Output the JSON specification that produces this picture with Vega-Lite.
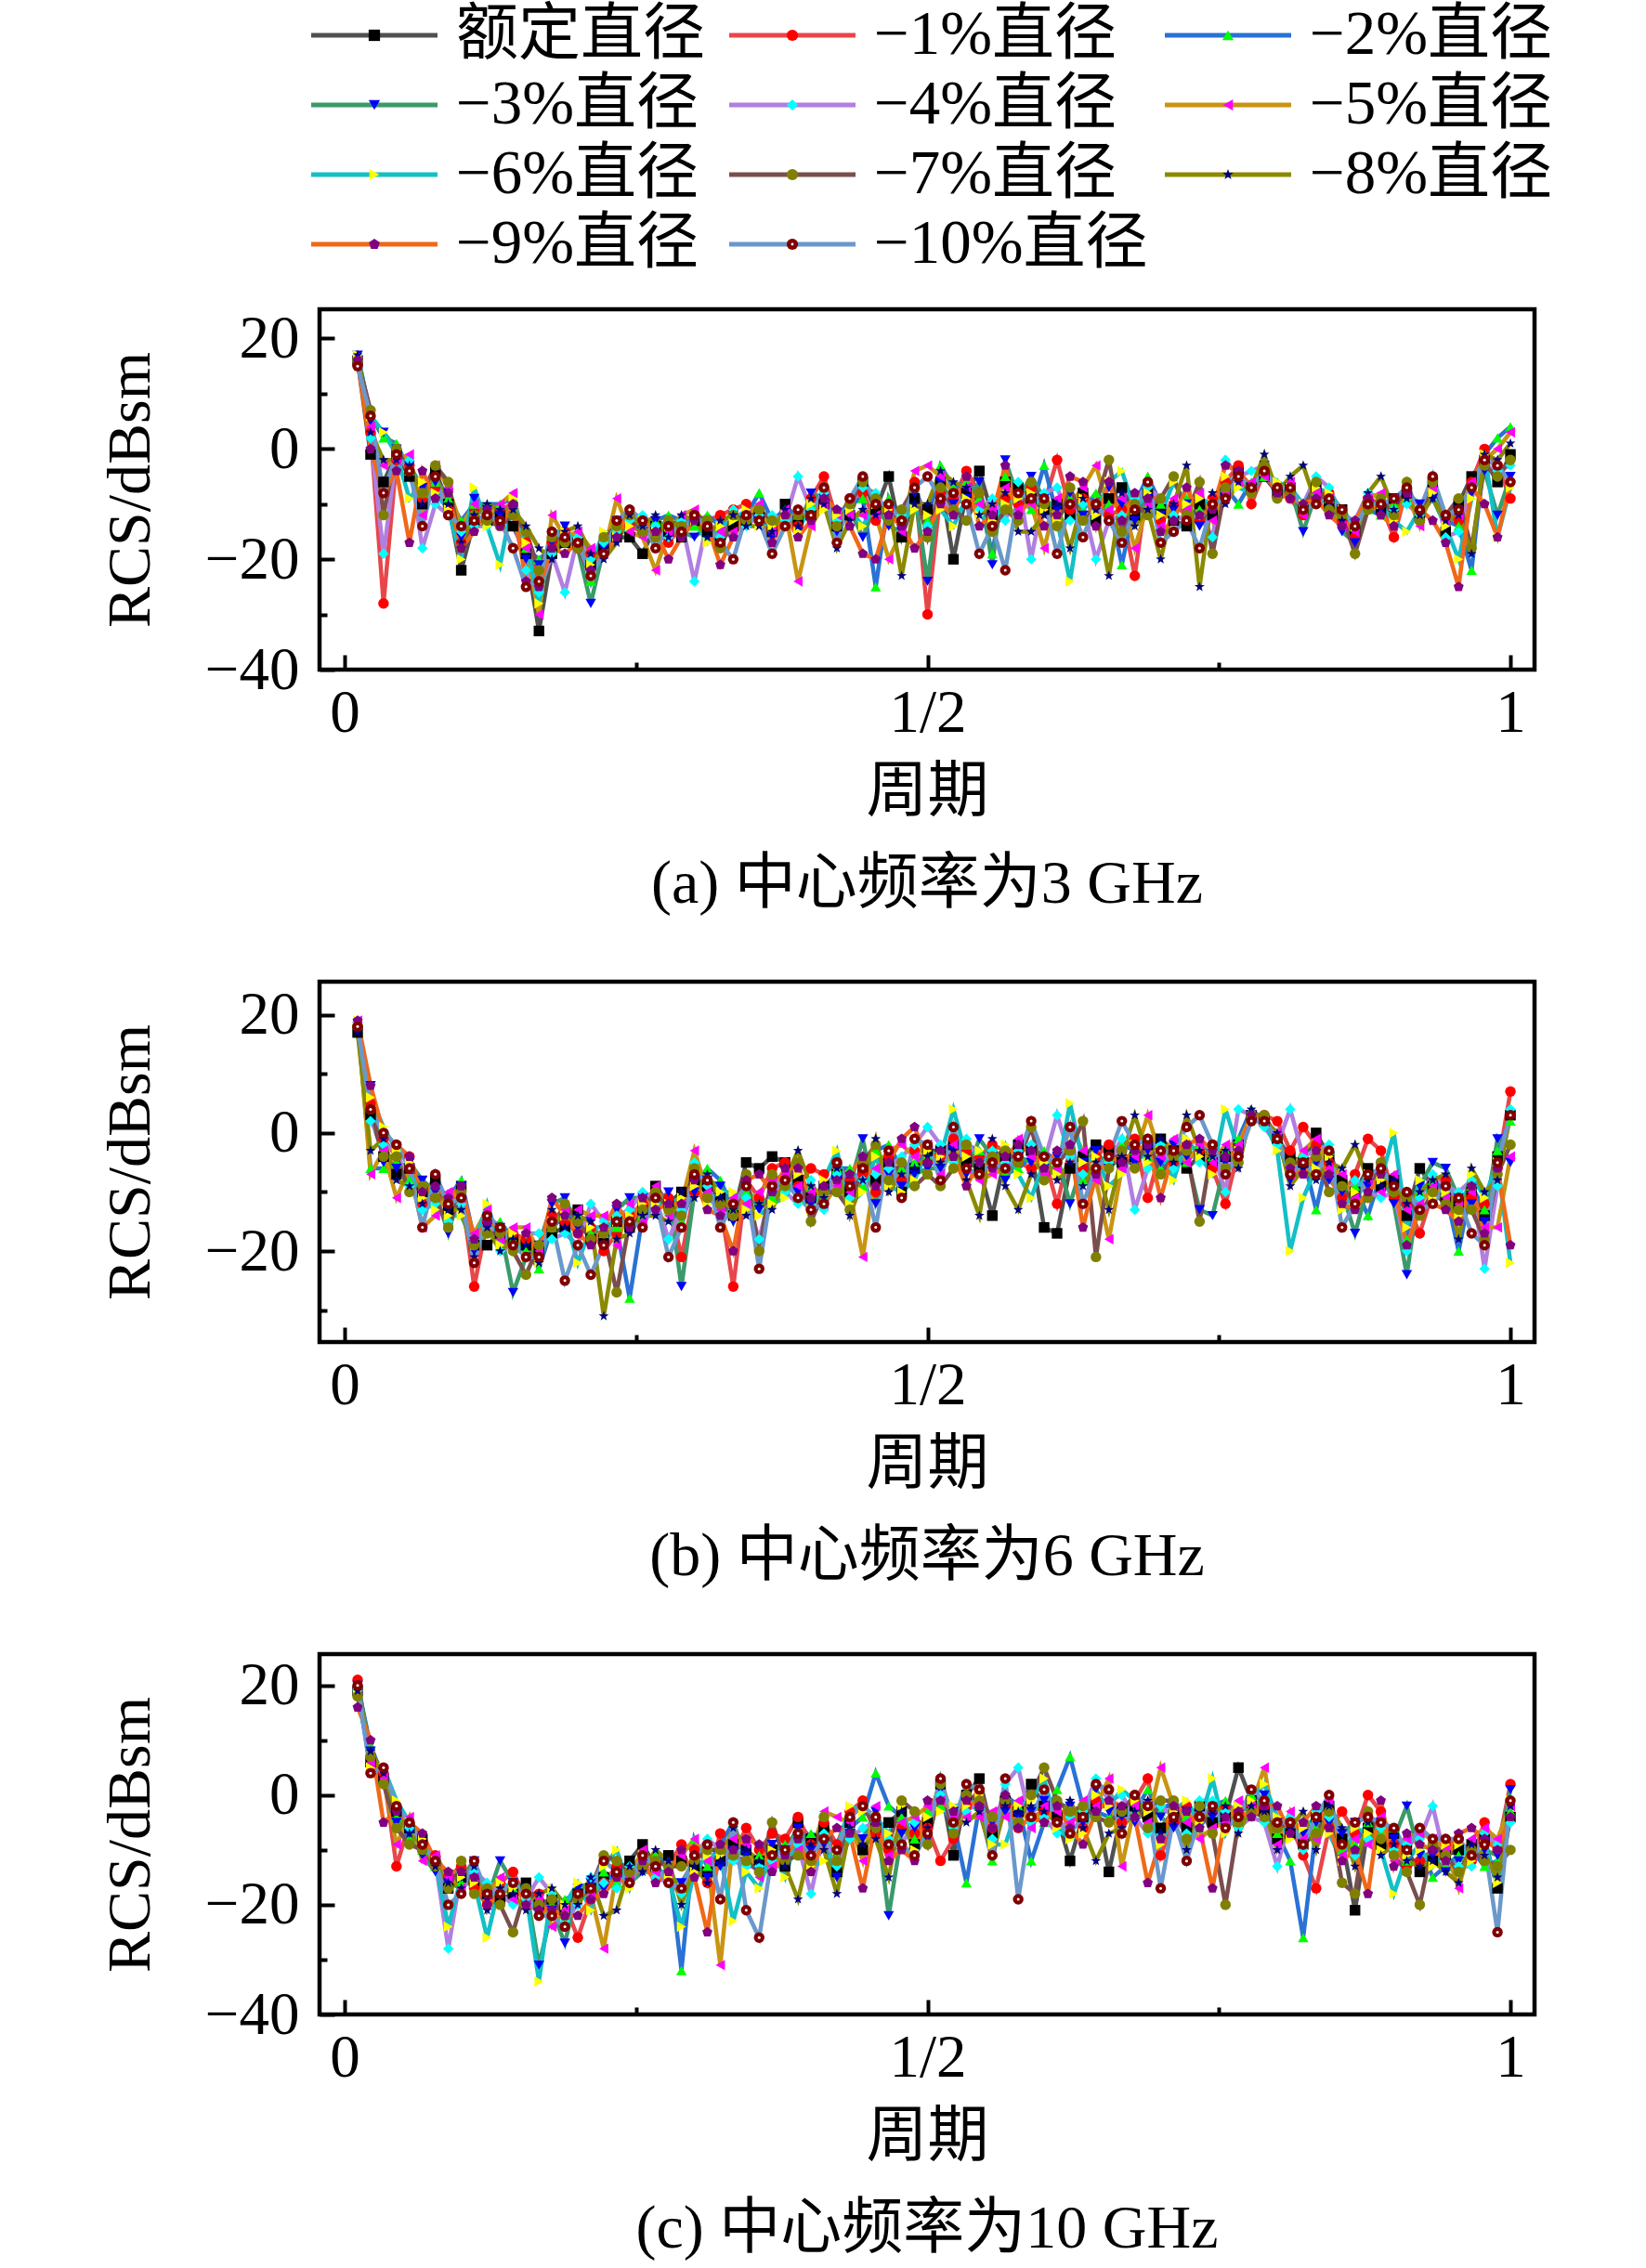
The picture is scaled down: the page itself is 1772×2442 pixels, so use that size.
{
  "$schema": "https://vega.github.io/schema/vega-lite/v6.json",
  "autosize": {"type": "pad"},
  "padding": {"left": 105, "top": 4, "right": 10, "bottom": 10},
  "background": "white",
  "config": {
    "font": "'Liberation Serif', 'Noto Sans CJK SC'",
    "view": {"stroke": "black", "strokeWidth": 4.5},
    "axis": {
      "domain": false, "grid": false, "tickColor": "black", "tickWidth": 4,
      "labelFont": "'Liberation Serif', 'Noto Sans CJK SC'", "labelFontSize": 65, "labelColor": "black",
      "titleFont": "'Liberation Serif', 'Noto Sans CJK SC'", "titleFontSize": 66, "titleFontWeight": "normal", "titleColor": "black",
      "labelFlush": false, "labelOverlap": false
    },
    "axisX": {"titlePadding": 20, "labelPadding": 31},
    "axisY": {"titlePadding": 46, "labelPadding": 38},
    "title": {"font": "'Liberation Serif', 'Noto Sans CJK SC'", "fontSize": 66, "fontWeight": "normal", "color": "black", "offset": 35, "frame": "group"}
  },
  "datasets": {
    "L": [
      {"s": "a", "t": "额定直径"}, {"s": "b", "t": "−1%直径"}, {"s": "c", "t": "−2%直径"},
      {"s": "d", "t": "−3%直径"}, {"s": "e", "t": "−4%直径"}, {"s": "f", "t": "−5%直径"},
      {"s": "g", "t": "−6%直径"}, {"s": "h", "t": "−7%直径"}, {"s": "i", "t": "−8%直径"},
      {"s": "j", "t": "−9%直径"}, {"s": "k", "t": "−10%直径"}
    ],
    "A": [
      {"x":1,"a":16,"b":16,"c":17,"d":17,"e":16,"f":16,"g":17,"h":16,"i":17,"j":16,"k":15},
      {"x":2,"a":-1,"b":3,"c":6,"d":5,"e":2,"f":4,"g":6,"h":7,"i":3,"j":0,"k":6},
      {"x":3,"a":-6,"b":-28,"c":2,"d":3,"e":-19,"f":-3,"g":3,"h":-12,"i":-2,"j":-8,"k":-8},
      {"x":4,"a":-1,"b":-2,"c":1,"d":0,"e":-1,"f":-2,"g":-1,"h":0,"i":-2,"j":-4,"k":-1},
      {"x":5,"a":-5,"b":-3,"c":-4,"d":-3,"e":-2,"f":-1,"g":-9,"h":-4,"i":-3,"j":-17,"k":-4},
      {"x":6,"a":-10,"b":-9,"c":-8,"d":-7,"e":-18,"f":-12,"g":-6,"h":-8,"i":-10,"j":-4,"k":-14},
      {"x":7,"a":-4,"b":-7,"c":-6,"d":-6,"e":-10,"f":-3,"g":-8,"h":-3,"i":-5,"j":-9,"k":-5},
      {"x":8,"a":-10,"b":-11,"c":-9,"d":-8,"e":-12,"f":-7,"g":-11,"h":-6,"i":-10,"j":-8,"k":-12},
      {"x":9,"a":-22,"b":-17,"c":-13,"d":-16,"e":-15,"f":-14,"g":-20,"h":-18,"i":-17,"j":-18,"k":-14},
      {"x":10,"a":-13,"b":-11,"c":-10,"d":-9,"e":-14,"f":-10,"g":-7,"h":-12,"i":-12,"j":-15,"k":-13},
      {"x":11,"a":-13,"b":-12,"c":-10,"d":-11,"e":-14,"f":-12,"g":-14,"h":-13,"i":-10,"j":-11,"k":-12},
      {"x":12,"a":-12,"b":-11,"c":-10,"d":-12,"e":-13,"f":-10,"g":-21,"h":-14,"i":-11,"j":-14,"k":-13},
      {"x":13,"a":-14,"b":-10,"c":-9,"d":-11,"e":-12,"f":-8,"g":-9,"h":-12,"i":-11,"j":-10,"k":-18},
      {"x":14,"a":-19,"b":-17,"c":-18,"d":-20,"e":-22,"f":-18,"g":-17,"h":-15,"i":-14,"j":-24,"k":-25},
      {"x":15,"a":-33,"b":-24,"c":-20,"d":-21,"e":-26,"f":-30,"g":-28,"h":-22,"i":-18,"j":-25,"k":-24},
      {"x":16,"a":-19,"b":-17,"c":-18,"d":-17,"e":-19,"f":-12,"g":-15,"h":-16,"i":-20,"j":-18,"k":-15},
      {"x":17,"a":-17,"b":-15,"c":-16,"d":-14,"e":-26,"f":-16,"g":-15,"h":-17,"i":-15,"j":-19,"k":-16},
      {"x":18,"a":-17,"b":-18,"c":-16,"d":-18,"e":-16,"f":-15,"g":-17,"h":-18,"i":-14,"j":-17,"k":-17},
      {"x":19,"a":-21,"b":-19,"c":-24,"d":-28,"e":-20,"f":-18,"g":-21,"h":-23,"i":-19,"j":-22,"k":-23},
      {"x":20,"a":-18,"b":-17,"c":-16,"d":-18,"e":-17,"f":-19,"g":-15,"h":-16,"i":-20,"j":-19,"k":-19},
      {"x":21,"a":-16,"b":-15,"c":-14,"d":-13,"e":-15,"f":-9,"g":-16,"h":-14,"i":-17,"j":-16,"k":-13},
      {"x":22,"a":-16,"b":-14,"c":-12,"d":-13,"e":-13,"f":-15,"g":-14,"h":-12,"i":-12,"j":-11,"k":-11},
      {"x":23,"a":-19,"b":-15,"c":-14,"d":-15,"e":-12,"f":-16,"g":-13,"h":-15,"i":-14,"j":-13,"k":-13},
      {"x":24,"a":-14,"b":-15,"c":-13,"d":-13,"e":-14,"f":-22,"g":-15,"h":-16,"i":-12,"j":-15,"k":-18},
      {"x":25,"a":-15,"b":-17,"c":-12,"d":-14,"e":-16,"f":-15,"g":-14,"h":-13,"i":-16,"j":-20,"k":-14},
      {"x":26,"a":-16,"b":-14,"c":-13,"d":-15,"e":-13,"f":-12,"g":-15,"h":-14,"i":-12,"j":-16,"k":-15},
      {"x":27,"a":-13,"b":-12,"c":-14,"d":-16,"e":-24,"f":-11,"g":-13,"h":-12,"i":-13,"j":-13,"k":-12},
      {"x":28,"a":-15,"b":-13,"c":-12,"d":-14,"e":-13,"f":-14,"g":-17,"h":-13,"i":-16,"j":-14,"k":-14},
      {"x":29,"a":-17,"b":-12,"c":-14,"d":-15,"e":-16,"f":-15,"g":-14,"h":-18,"i":-13,"j":-21,"k":-17},
      {"x":30,"a":-14,"b":-11,"c":-12,"d":-13,"e":-11,"f":-15,"g":-13,"h":-12,"i":-12,"j":-16,"k":-20},
      {"x":31,"a":-13,"b":-10,"c":-12,"d":-13,"e":-14,"f":-12,"g":-11,"h":-13,"i":-14,"j":-12,"k":-12},
      {"x":32,"a":-12,"b":-11,"c":-8,"d":-13,"e":-12,"f":-10,"g":-14,"h":-11,"i":-14,"j":-13,"k":-13},
      {"x":33,"a":-15,"b":-14,"c":-13,"d":-16,"e":-12,"f":-15,"g":-14,"h":-13,"i":-15,"j":-17,"k":-19},
      {"x":34,"a":-10,"b":-12,"c":-11,"d":-12,"e":-13,"f":-11,"g":-12,"h":-14,"i":-11,"j":-12,"k":-14},
      {"x":35,"a":-13,"b":-14,"c":-12,"d":-15,"e":-5,"f":-24,"g":-15,"h":-12,"i":-14,"j":-16,"k":-11},
      {"x":36,"a":-12,"b":-9,"c":-10,"d":-8,"e":-11,"f":-14,"g":-10,"h":-12,"i":-9,"j":-13,"k":-12},
      {"x":37,"a":-10,"b":-5,"c":-8,"d":-9,"e":-8,"f":-10,"g":-11,"h":-7,"i":-10,"j":-9,"k":-7},
      {"x":38,"a":-14,"b":-13,"c":-12,"d":-15,"e":-13,"f":-12,"g":-12,"h":-14,"i":-18,"j":-11,"k":-17},
      {"x":39,"a":-12,"b":-9,"c":-10,"d":-11,"e":-10,"f":-12,"g":-11,"h":-10,"i":-13,"j":-14,"k":-9},
      {"x":40,"a":-6,"b":-8,"c":-9,"d":-16,"e":-7,"f":-12,"g":-14,"h":-6,"i":-11,"j":-19,"k":-5},
      {"x":41,"a":-11,"b":-13,"c":-25,"d":-10,"e":-8,"f":-12,"g":-10,"h":-9,"i":-12,"j":-20,"k":-10},
      {"x":42,"a":-5,"b":-11,"c":-9,"d":-14,"e":-12,"f":-20,"g":-11,"h":-13,"i":-10,"j":-12,"k":-10},
      {"x":43,"a":-16,"b":-13,"c":-14,"d":-15,"e":-12,"f":-15,"g":-13,"h":-11,"i":-23,"j":-14,"k":-13},
      {"x":44,"a":-9,"b":-6,"c":-7,"d":-8,"e":-7,"f":-4,"g":-11,"h":-7,"i":-10,"j":-18,"k":-7},
      {"x":45,"a":-11,"b":-30,"c":-13,"d":-24,"e":-14,"f":-3,"g":-12,"h":-16,"i":-10,"j":-15,"k":-5},
      {"x":46,"a":-6,"b":-8,"c":-3,"d":-6,"e":-9,"f":-5,"g":-11,"h":-7,"i":-4,"j":-10,"k":-9},
      {"x":47,"a":-20,"b":-9,"c":-7,"d":-10,"e":-12,"f":-8,"g":-14,"h":-11,"i":-6,"j":-12,"k":-8},
      {"x":48,"a":-8,"b":-4,"c":-6,"d":-9,"e":-10,"f":-7,"g":-9,"h":-13,"i":-7,"j":-5,"k":-10},
      {"x":49,"a":-4,"b":-8,"c":-9,"d":-6,"e":-11,"f":-10,"g":-12,"h":-8,"i":-12,"j":-14,"k":-19},
      {"x":50,"a":-12,"b":-14,"c":-19,"d":-21,"e":-9,"f":-11,"g":-13,"h":-15,"i":-10,"j":-12,"k":-14},
      {"x":51,"a":-6,"b":-9,"c":-5,"d":-2,"e":-13,"f":-7,"g":-10,"h":-11,"i":-8,"j":-3,"k":-22},
      {"x":52,"a":-7,"b":-10,"c":-8,"d":-9,"e":-6,"f":-11,"g":-9,"h":-13,"i":-15,"j":-12,"k":-8},
      {"x":53,"a":-9,"b":-7,"c":-11,"d":-5,"e":-20,"f":-10,"g":-8,"h":-6,"i":-15,"j":-9,"k":-9},
      {"x":54,"a":-11,"b":-10,"c":-3,"d":-9,"e":-8,"f":-18,"g":-11,"h":-10,"i":-12,"j":-14,"k":-9},
      {"x":55,"a":-10,"b":-2,"c":-12,"d":-11,"e":-7,"f":-9,"g":-13,"h":-14,"i":-10,"j":-12,"k":-19},
      {"x":56,"a":-12,"b":-11,"c":-9,"d":-8,"e":-13,"f":-10,"g":-24,"h":-7,"i":-18,"j":-5,"k":-10},
      {"x":57,"a":-8,"b":-9,"c":-11,"d":-12,"e":-10,"f":-7,"g":-9,"h":-13,"i":-9,"j":-6,"k":-16},
      {"x":58,"a":-13,"b":-10,"c":-8,"d":-11,"e":-20,"f":-3,"g":-12,"h":-10,"i":-11,"j":-14,"k":-10},
      {"x":59,"a":-9,"b":-12,"c":-10,"d":-7,"e":-13,"f":-11,"g":-6,"h":-2,"i":-23,"j":-6,"k":-13},
      {"x":60,"a":-7,"b":-11,"c":-21,"d":-10,"e":-12,"f":-9,"g":-4,"h":-15,"i":-8,"j":-13,"k":-17},
      {"x":61,"a":-12,"b":-23,"c":-10,"d":-13,"e":-9,"f":-18,"g":-11,"h":-10,"i":-14,"j":-8,"k":-11},
      {"x":62,"a":-8,"b":-6,"c":-5,"d":-9,"e":-7,"f":-10,"g":-8,"h":-12,"i":-11,"j":-9,"k":-6},
      {"x":63,"a":-11,"b":-13,"c":-10,"d":-12,"e":-9,"f":-14,"g":-12,"h":-9,"i":-20,"j":-15,"k":-17},
      {"x":64,"a":-13,"b":-10,"c":-12,"d":-11,"e":-12,"f":-9,"g":-6,"h":-5,"i":-10,"j":-13,"k":-15},
      {"x":65,"a":-14,"b":-12,"c":-9,"d":-10,"e":-13,"f":-11,"g":-10,"h":-12,"i":-3,"j":-7,"k":-13},
      {"x":66,"a":-10,"b":-13,"c":-11,"d":-14,"e":-12,"f":-8,"g":-9,"h":-6,"i":-25,"j":-12,"k":-18},
      {"x":67,"a":-12,"b":-9,"c":-10,"d":-11,"e":-16,"f":-13,"g":-10,"h":-19,"i":-8,"j":-11,"k":-10},
      {"x":68,"a":-8,"b":-6,"c":-7,"d":-9,"e":-2,"f":-8,"g":-5,"h":-7,"i":-10,"j":-3,"k":-9},
      {"x":69,"a":-4,"b":-3,"c":-10,"d":-6,"e":-5,"f":-6,"g":-7,"h":-5,"i":-6,"j":-4,"k":-5},
      {"x":70,"a":-7,"b":-10,"c":-6,"d":-7,"e":-4,"f":-6,"g":-8,"h":-8,"i":-7,"j":-7,"k":-7},
      {"x":71,"a":-5,"b":-4,"c":-5,"d":-3,"e":-3,"f":-5,"g":-4,"h":-3,"i":-1,"j":-4,"k":-4},
      {"x":72,"a":-8,"b":-7,"c":-6,"d":-8,"e":-9,"f":-7,"g":-6,"h":-9,"i":-8,"j":-8,"k":-7},
      {"x":73,"a":-7,"b":-9,"c":-8,"d":-7,"e":-8,"f":-6,"g":-7,"h":-8,"i":-5,"j":-9,"k":-7},
      {"x":74,"a":-11,"b":-12,"c":-10,"d":-15,"e":-10,"f":-12,"g":-10,"h":-11,"i":-3,"j":-10,"k":-11},
      {"x":75,"a":-7,"b":-9,"c":-8,"d":-8,"e":-5,"f":-8,"g":-7,"h":-6,"i":-10,"j":-9,"k":-10},
      {"x":76,"a":-10,"b":-8,"c":-9,"d":-10,"e":-7,"f":-9,"g":-8,"h":-11,"i":-9,"j":-12,"k":-9},
      {"x":77,"a":-11,"b":-13,"c":-12,"d":-15,"e":-12,"f":-14,"g":-11,"h":-12,"i":-13,"j":-14,"k":-11},
      {"x":78,"a":-15,"b":-16,"c":-14,"d":-17,"e":-13,"f":-15,"g":-14,"h":-19,"i":-14,"j":-13,"k":-14},
      {"x":79,"a":-10,"b":-9,"c":-11,"d":-10,"e":-8,"f":-9,"g":-10,"h":-11,"i":-8,"j":-9,"k":-10},
      {"x":80,"a":-11,"b":-10,"c":-12,"d":-11,"e":-9,"f":-8,"g":-10,"h":-9,"i":-5,"j":-12,"k":-10},
      {"x":81,"a":-9,"b":-16,"c":-10,"d":-12,"e":-11,"f":-9,"g":-13,"h":-12,"i":-11,"j":-14,"k":-9},
      {"x":82,"a":-8,"b":-7,"c":-9,"d":-8,"e":-10,"f":-8,"g":-15,"h":-6,"i":-9,"j":-8,"k":-7},
      {"x":83,"a":-12,"b":-13,"c":-11,"d":-10,"e":-12,"f":-14,"g":-11,"h":-13,"i":-12,"j":-11,"k":-11},
      {"x":84,"a":-6,"b":-8,"c":-7,"d":-9,"e":-5,"f":-7,"g":-8,"h":-6,"i":-9,"j":-13,"k":-5},
      {"x":85,"a":-15,"b":-12,"c":-13,"d":-14,"e":-16,"f":-13,"g":-14,"h":-12,"i":-13,"j":-17,"k":-12},
      {"x":86,"a":-10,"b":-13,"c":-14,"d":-11,"e":-15,"f":-12,"g":-20,"h":-9,"i":-12,"j":-25,"k":-11},
      {"x":87,"a":-5,"b":-6,"c":-22,"d":-8,"e":-7,"f":-6,"g":-9,"h":-18,"i":-19,"j":-7,"k":-7},
      {"x":88,"a":-2,"b":0,"c":-1,"d":-4,"e":-3,"f":-2,"g":-1,"h":-3,"i":-1,"j":-10,"k":-2},
      {"x":89,"a":-6,"b":-3,"c":2,"d":-12,"e":-4,"f":0,"g":-16,"h":-5,"i":-2,"j":-16,"k":-3},
      {"x":90,"a":-1,"b":-9,"c":4,"d":-5,"e":-3,"f":3,"g":-7,"h":-2,"i":1,"j":-6,"k":-6}
    ],
    "B": [
      {"x":1,"a":17,"b":18,"c":19,"d":18,"e":18,"f":19,"g":19,"h":18,"i":17,"j":19,"k":18},
      {"x":2,"a":3,"b":5,"c":-6,"d":8,"e":2,"f":-7,"g":6,"h":4,"i":-3,"j":8,"k":4},
      {"x":3,"a":-4,"b":-1,"c":-6,"d":-5,"e":-2,"f":-3,"g":1,"h":-4,"i":-1,"j":0,"k":0},
      {"x":4,"a":-7,"b":-4,"c":-5,"d":-6,"e":-3,"f":-11,"g":-3,"h":-4,"i":-8,"j":-2,"k":-2},
      {"x":5,"a":-6,"b":-4,"c":-8,"d":-5,"e":-9,"f":-6,"g":-5,"h":-10,"i":-9,"j":-4,"k":-6},
      {"x":6,"a":-10,"b":-12,"c":-9,"d":-8,"e":-13,"f":-16,"g":-11,"h":-9,"i":-12,"j":-10,"k":-16},
      {"x":7,"a":-8,"b":-11,"c":-9,"d":-10,"e":-12,"f":-14,"g":-13,"h":-11,"i":-7,"j":-9,"k":-7},
      {"x":8,"a":-13,"b":-12,"c":-11,"d":-17,"e":-15,"f":-10,"g":-14,"h":-16,"i":-13,"j":-11,"k":-12},
      {"x":9,"a":-9,"b":-10,"c":-8,"d":-9,"e":-12,"f":-11,"g":-14,"h":-10,"i":-13,"j":-9,"k":-11},
      {"x":10,"a":-19,"b":-26,"c":-18,"d":-20,"e":-18,"f":-17,"g":-19,"h":-19,"i":-21,"j":-18,"k":-22},
      {"x":11,"a":-19,"b":-15,"c":-17,"d":-16,"e":-14,"f":-13,"g":-12,"h":-17,"i":-16,"j":-15,"k":-14},
      {"x":12,"a":-17,"b":-16,"c":-15,"d":-16,"e":-20,"f":-18,"g":-19,"h":-17,"i":-20,"j":-16,"k":-16},
      {"x":13,"a":-18,"b":-17,"c":-18,"d":-27,"e":-19,"f":-16,"g":-17,"h":-20,"i":-18,"j":-19,"k":-19},
      {"x":14,"a":-19,"b":-18,"c":-20,"d":-21,"e":-17,"f":-16,"g":-21,"h":-24,"i":-19,"j":-17,"k":-21},
      {"x":15,"a":-20,"b":-21,"c":-23,"d":-19,"e":-17,"f":-20,"g":-22,"h":-19,"i":-22,"j":-21,"k":-21},
      {"x":16,"a":-17,"b":-14,"c":-16,"d":-12,"e":-18,"f":-15,"g":-15,"h":-16,"i":-13,"j":-11,"k":-15},
      {"x":17,"a":-16,"b":-15,"c":-14,"d":-11,"e":-17,"f":-13,"g":-14,"h":-12,"i":-16,"j":-14,"k":-25},
      {"x":18,"a":-13,"b":-17,"c":-14,"d":-16,"e":-19,"f":-13,"g":-22,"h":-15,"i":-14,"j":-17,"k":-19},
      {"x":19,"a":-18,"b":-16,"c":-17,"d":-15,"e":-12,"f":-14,"g":-16,"h":-18,"i":-15,"j":-19,"k":-24},
      {"x":20,"a":-18,"b":-20,"c":-17,"d":-19,"e":-15,"f":-14,"g":-16,"h":-17,"i":-31,"j":-16,"k":-19},
      {"x":21,"a":-15,"b":-17,"c":-16,"d":-13,"e":-14,"f":-19,"g":-15,"h":-27,"i":-18,"j":-12,"k":-15},
      {"x":22,"a":-16,"b":-14,"c":-28,"d":-11,"e":-13,"f":-12,"g":-14,"h":-15,"i":-17,"j":-16,"k":-15},
      {"x":23,"a":-13,"b":-12,"c":-14,"d":-11,"e":-10,"f":-15,"g":-12,"h":-13,"i":-14,"j":-11,"k":-16},
      {"x":24,"a":-9,"b":-10,"c":-11,"d":-12,"e":-11,"f":-9,"g":-12,"h":-10,"i":-14,"j":-13,"k":-11},
      {"x":25,"a":-12,"b":-11,"c":-13,"d":-10,"e":-18,"f":-14,"g":-12,"h":-13,"i":-15,"j":-12,"k":-21},
      {"x":26,"a":-10,"b":-21,"c":-15,"d":-26,"e":-13,"f":-12,"g":-11,"h":-14,"i":-10,"j":-12,"k":-16},
      {"x":27,"a":-8,"b":-10,"c":-9,"d":-10,"e":-5,"f":-3,"g":-9,"h":-6,"i":-11,"j":-8,"k":-7},
      {"x":28,"a":-9,"b":-11,"c":-6,"d":-8,"e":-9,"f":-10,"g":-12,"h":-11,"i":-7,"j":-13,"k":-8},
      {"x":29,"a":-11,"b":-12,"c":-8,"d":-9,"e":-14,"f":-13,"g":-10,"h":-12,"i":-11,"j":-14,"k":-16},
      {"x":30,"a":-14,"b":-26,"c":-13,"d":-15,"e":-12,"f":-11,"g":-10,"h":-14,"i":-13,"j":-20,"k":-12},
      {"x":31,"a":-5,"b":-8,"c":-10,"d":-9,"e":-11,"f":-12,"g":-13,"h":-7,"i":-14,"j":-8,"k":-9},
      {"x":32,"a":-6,"b":-11,"c":-12,"d":-13,"e":-18,"f":-10,"g":-14,"h":-20,"i":-12,"j":-7,"k":-23},
      {"x":33,"a":-4,"b":-6,"c":-11,"d":-10,"e":-9,"f":-8,"g":-12,"h":-7,"i":-13,"j":-10,"k":-9},
      {"x":34,"a":-5,"b":-5,"c":-8,"d":-9,"e":-10,"f":-7,"g":-11,"h":-9,"i":-8,"j":-6,"k":-8},
      {"x":35,"a":-8,"b":-9,"c":-11,"d":-10,"e":-12,"f":-9,"g":-7,"h":-5,"i":-3,"j":-6,"k":-11},
      {"x":36,"a":-11,"b":-6,"c":-9,"d":-12,"e":-8,"f":-10,"g":-13,"h":-15,"i":-9,"j":-11,"k":-13},
      {"x":37,"a":-9,"b":-7,"c":-11,"d":-10,"e":-13,"f":-12,"g":-8,"h":-10,"i":-11,"j":-9,"k":-12},
      {"x":38,"a":-7,"b":-5,"c":-6,"d":-8,"e":-7,"f":-9,"g":-3,"h":-10,"i":-6,"j":-8,"k":-5},
      {"x":39,"a":-10,"b":-8,"c":-6,"d":-9,"e":-11,"f":-10,"g":-12,"h":-13,"i":-14,"j":-7,"k":-9},
      {"x":40,"a":-6,"b":-7,"c":-9,"d":-1,"e":-8,"f":-21,"g":-10,"h":-5,"i":-8,"j":-4,"k":-6},
      {"x":41,"a":-8,"b":-10,"c":-3,"d":-12,"e":-7,"f":-6,"g":-4,"h":-2,"i":-1,"j":-9,"k":-16},
      {"x":42,"a":-5,"b":-4,"c":-2,"d":-7,"e":-6,"f":-3,"g":-9,"h":-8,"i":-10,"j":-5,"k":-3},
      {"x":43,"a":-10,"b":-8,"c":-6,"d":-9,"e":-4,"f":-2,"g":-10,"h":-5,"i":-7,"j":-1,"k":-11},
      {"x":44,"a":-6,"b":-3,"c":-5,"d":-7,"e":-2,"f":-4,"g":-8,"h":-9,"i":-6,"j":1,"k":-1},
      {"x":45,"a":-3,"b":-5,"c":-4,"d":-6,"e":1,"f":-2,"g":-3,"h":-7,"i":-4,"j":-5,"k":-2},
      {"x":46,"a":-3,"b":-4,"c":-5,"d":-6,"e":-2,"f":-7,"g":-4,"h":-9,"i":-5,"j":-3,"k":-8},
      {"x":47,"a":-2,"b":-1,"c":-4,"d":-3,"e":-5,"f":-2,"g":4,"h":-6,"i":-3,"j":-4,"k":1},
      {"x":48,"a":-5,"b":-3,"c":-2,"d":-7,"e":-1,"f":-6,"g":-4,"h":-2,"i":-8,"j":-9,"k":-6},
      {"x":49,"a":-6,"b":-4,"c":-3,"d":-1,"e":-5,"f":-8,"g":-3,"h":-7,"i":-14,"j":-5,"k":-7},
      {"x":50,"a":-14,"b":-2,"c":-5,"d":-4,"e":-3,"f":-7,"g":-6,"h":-4,"i":-1,"j":-6,"k":-5},
      {"x":51,"a":-4,"b":-3,"c":-7,"d":-8,"e":-5,"f":-6,"g":-2,"h":-3,"i":-9,"j":-4,"k":-6},
      {"x":52,"a":-2,"b":-5,"c":-6,"d":-4,"e":-3,"f":-1,"g":-7,"h":-5,"i":-13,"j":-2,"k":-4},
      {"x":53,"a":-3,"b":-6,"c":-4,"d":-5,"e":-2,"f":-4,"g":-11,"h":1,"i":-7,"j":-3,"k":2},
      {"x":54,"a":-16,"b":-4,"c":-3,"d":-6,"e":-5,"f":-7,"g":-5,"h":-8,"i":-4,"j":-6,"k":-4},
      {"x":55,"a":-17,"b":-12,"c":-5,"d":-4,"e":3,"f":-6,"g":-7,"h":-5,"i":-8,"j":-3,"k":-5},
      {"x":56,"a":-6,"b":-3,"c":-2,"d":-12,"e":-4,"f":1,"g":5,"h":-3,"i":-5,"j":-2,"k":1},
      {"x":57,"a":-4,"b":-6,"c":-8,"d":-5,"e":-7,"f":-3,"g":-5,"h":2,"i":-9,"j":-16,"k":-12},
      {"x":58,"a":-2,"b":-4,"c":-5,"d":-3,"e":-6,"f":-8,"g":-4,"h":-21,"i":-5,"j":-7,"k":-6},
      {"x":59,"a":-3,"b":-2,"c":-4,"d":-6,"e":-5,"f":-18,"g":-9,"h":-6,"i":-13,"j":-4,"k":-4},
      {"x":60,"a":-5,"b":-3,"c":-2,"d":-4,"e":-1,"f":-6,"g":-7,"h":-3,"i":-4,"j":-5,"k":2},
      {"x":61,"a":-4,"b":-1,"c":-3,"d":-5,"e":-13,"f":-4,"g":-2,"h":-6,"i":3,"j":-3,"k":-2},
      {"x":62,"a":-2,"b":-11,"c":-4,"d":-3,"e":-6,"f":3,"g":-5,"h":-1,"i":-4,"j":-2,"k":-1},
      {"x":63,"a":-1,"b":-3,"c":-6,"d":-5,"e":-2,"f":-4,"g":-3,"h":-7,"i":-1,"j":-11,"k":-3},
      {"x":64,"a":-3,"b":-5,"c":-4,"d":-2,"e":-6,"f":-1,"g":-8,"h":-4,"i":-5,"j":-3,"k":-3},
      {"x":65,"a":-6,"b":-2,"c":-5,"d":-4,"e":-3,"f":-5,"g":-1,"h":-3,"i":3,"j":-2,"k":1},
      {"x":66,"a":-4,"b":-3,"c":-2,"d":-13,"e":-5,"f":-2,"g":-4,"h":-15,"i":-3,"j":-1,"k":3},
      {"x":67,"a":-5,"b":-6,"c":-4,"d":-14,"e":-3,"f":-5,"g":-7,"h":-2,"i":-4,"j":-3,"k":-2},
      {"x":68,"a":-4,"b":-12,"c":-3,"d":-5,"e":-10,"f":-2,"g":4,"h":-6,"i":-3,"j":-4,"k":-7},
      {"x":69,"a":-2,"b":-3,"c":-1,"d":-4,"e":4,"f":-2,"g":-3,"h":-5,"i":-6,"j":-3,"k":-4},
      {"x":70,"a":3,"b":3,"c":4,"d":3,"e":3,"f":3,"g":2,"h":3,"i":4,"j":3,"k":2},
      {"x":71,"a":2,"b":3,"c":2,"d":2,"e":1,"f":2,"g":2,"h":3,"i":2,"j":2,"k":2},
      {"x":72,"a":-1,"b":2,"c":0,"d":-1,"e":-2,"f":0,"g":-3,"h":-1,"i":0,"j":-1,"k":-1},
      {"x":73,"a":-4,"b":-3,"c":-6,"d":-8,"e":4,"f":-7,"g":-20,"h":-5,"i":-9,"j":-6,"k":-7},
      {"x":74,"a":-5,"b":1,"c":-4,"d":-6,"e":-4,"f":-3,"g":-11,"h":-5,"i":-6,"j":-7,"k":-5},
      {"x":75,"a":0,"b":-2,"c":-13,"d":-5,"e":-3,"f":-1,"g":-6,"h":-4,"i":-8,"j":-3,"k":-7},
      {"x":76,"a":-4,"b":-5,"c":-3,"d":-8,"e":-2,"f":-6,"g":-4,"h":-10,"i":-5,"j":-7,"k":-3},
      {"x":77,"a":-8,"b":-11,"c":-9,"d":-10,"e":-12,"f":-7,"g":-13,"h":-9,"i":-6,"j":-12,"k":-16},
      {"x":78,"a":-10,"b":-7,"c":-9,"d":-17,"e":-8,"f":-11,"g":-10,"h":-12,"i":-2,"j":-13,"k":-12},
      {"x":79,"a":-6,"b":-1,"c":-14,"d":-9,"e":-10,"f":-8,"g":-7,"h":-11,"i":-8,"j":-10,"k":-7},
      {"x":80,"a":-9,"b":-3,"c":-7,"d":-6,"e":-11,"f":-10,"g":-8,"h":-5,"i":-9,"j":-7,"k":-6},
      {"x":81,"a":-8,"b":-11,"c":-9,"d":-12,"e":-10,"f":-7,"g":0,"h":-10,"i":-8,"j":-9,"k":-9},
      {"x":82,"a":-14,"b":-12,"c":-18,"d":-24,"e":-20,"f":-13,"g":-16,"h":-11,"i":-12,"j":-19,"k":-10},
      {"x":83,"a":-6,"b":-17,"c":-10,"d":-9,"e":-11,"f":-12,"g":-8,"h":-14,"i":-10,"j":-13,"k":-13},
      {"x":84,"a":-9,"b":-10,"c":-8,"d":-5,"e":-7,"f":-9,"g":-11,"h":-10,"i":-8,"j":-12,"k":-12},
      {"x":85,"a":-11,"b":-8,"c":-10,"d":-6,"e":-9,"f":-11,"g":-10,"h":-12,"i":-7,"j":-13,"k":-9},
      {"x":86,"a":-12,"b":-13,"c":-20,"d":-11,"e":-10,"f":-12,"g":-14,"h":-13,"i":-18,"j":-15,"k":-11},
      {"x":87,"a":-10,"b":-11,"c":-9,"d":-12,"e":-8,"f":-10,"g":-7,"h":-13,"i":-6,"j":-9,"k":-17},
      {"x":88,"a":-14,"b":-12,"c":-13,"d":-15,"e":-23,"f":-16,"g":-11,"h":-18,"i":-10,"j":-17,"k":-19},
      {"x":89,"a":-4,"b":-6,"c":-3,"d":-1,"e":-9,"f":-16,"g":-5,"h":-7,"i":-8,"j":-6,"k":-5},
      {"x":90,"a":3,"b":7,"c":2,"d":-5,"e":4,"f":-4,"g":-22,"h":-2,"i":3,"j":-19,"k":3}
    ],
    "C": [
      {"x":1,"a":19,"b":21,"c":20,"d":20,"e":19,"f":19,"g":19,"h":18,"i":19,"j":16,"k":20},
      {"x":2,"a":6,"b":7,"c":9,"d":8,"e":7,"f":6,"g":5,"h":7,"i":8,"j":10,"k":4},
      {"x":3,"a":3,"b":4,"c":3,"d":4,"e":2,"f":3,"g":5,"h":2,"i":4,"j":-5,"k":5},
      {"x":4,"a":-3,"b":-13,"c":-4,"d":-5,"e":-2,"f":-9,"g":-1,"h":-6,"i":-3,"j":-3,"k":-2},
      {"x":5,"a":-6,"b":-5,"c":-8,"d":-7,"e":-6,"f":-4,"g":-5,"h":-9,"i":-7,"j":-5,"k":-5},
      {"x":6,"a":-8,"b":-9,"c":-10,"d":-11,"e":-9,"f":-12,"g":-8,"h":-10,"i":-9,"j":-7,"k":-9},
      {"x":7,"a":-12,"b":-11,"c":-13,"d":-14,"e":-12,"f":-11,"g":-12,"h":-13,"i":-13,"j":-12,"k":-12},
      {"x":8,"a":-17,"b":-15,"c":-16,"d":-16,"e":-28,"f":-15,"g":-24,"h":-17,"i":-16,"j":-14,"k":-20},
      {"x":9,"a":-15,"b":-13,"c":-16,"d":-15,"e":-14,"f":-17,"g":-15,"h":-12,"i":-17,"j":-14,"k":-18},
      {"x":10,"a":-16,"b":-17,"c":-15,"d":-12,"e":-14,"f":-15,"g":-16,"h":-18,"i":-13,"j":-15,"k":-12},
      {"x":11,"a":-18,"b":-20,"c":-17,"d":-19,"e":-16,"f":-18,"g":-26,"h":-17,"i":-21,"j":-20,"k":-18},
      {"x":12,"a":-19,"b":-16,"c":-17,"d":-12,"e":-18,"f":-15,"g":-16,"h":-20,"i":-17,"j":-18,"k":-18},
      {"x":13,"a":-18,"b":-14,"c":-17,"d":-16,"e":-20,"f":-19,"g":-17,"h":-25,"i":-18,"j":-16,"k":-16},
      {"x":14,"a":-16,"b":-19,"c":-18,"d":-17,"e":-19,"f":-20,"g":-18,"h":-17,"i":-21,"j":-20,"k":-18},
      {"x":15,"a":-20,"b":-18,"c":-19,"d":-31,"e":-15,"f":-19,"g":-34,"h":-20,"i":-18,"j":-21,"k":-22},
      {"x":16,"a":-19,"b":-22,"c":-20,"d":-21,"e":-18,"f":-24,"g":-17,"h":-19,"i":-17,"j":-21,"k":-22},
      {"x":17,"a":-21,"b":-20,"c":-19,"d":-27,"e":-23,"f":-21,"g":-20,"h":-22,"i":-20,"j":-22,"k":-24},
      {"x":18,"a":-18,"b":-26,"c":-18,"d":-17,"e":-20,"f":-19,"g":-16,"h":-19,"i":-20,"j":-22,"k":-18},
      {"x":19,"a":-17,"b":-19,"c":-18,"d":-16,"e":-15,"f":-18,"g":-21,"h":-17,"i":-15,"j":-19,"k":-17},
      {"x":20,"a":-15,"b":-16,"c":-14,"d":-17,"e":-16,"f":-28,"g":-13,"h":-11,"i":-22,"j":-18,"k":-12},
      {"x":21,"a":-14,"b":-13,"c":-16,"d":-15,"e":-17,"f":-14,"g":-10,"h":-12,"i":-21,"j":-15,"k":-14},
      {"x":22,"a":-12,"b":-14,"c":-15,"d":-16,"e":-13,"f":-15,"g":-17,"h":-14,"i":-13,"j":-16,"k":-16},
      {"x":23,"a":-9,"b":-13,"c":-12,"d":-14,"e":-12,"f":-10,"g":-11,"h":-13,"i":-14,"j":-12,"k":-11},
      {"x":24,"a":-13,"b":-12,"c":-11,"d":-14,"e":-15,"f":-14,"g":-13,"h":-12,"i":-10,"j":-16,"k":-13},
      {"x":25,"a":-11,"b":-13,"c":-12,"d":-15,"e":-16,"f":-14,"g":-15,"h":-13,"i":-12,"j":-14,"k":-16},
      {"x":26,"a":-12,"b":-9,"c":-32,"d":-16,"e":-18,"f":-11,"g":-24,"h":-13,"i":-20,"j":-10,"k":-17},
      {"x":27,"a":-13,"b":-10,"c":-8,"d":-12,"e":-11,"f":-8,"g":-14,"h":-12,"i":-13,"j":-15,"k":-11},
      {"x":28,"a":-14,"b":-16,"c":-13,"d":-15,"e":-8,"f":-12,"g":-11,"h":-10,"i":-16,"j":-25,"k":-9},
      {"x":29,"a":-12,"b":-7,"c":-9,"d":-13,"e":-10,"f":-31,"g":-11,"h":-10,"i":-12,"j":-9,"k":-19},
      {"x":30,"a":-9,"b":-11,"c":-5,"d":-10,"e":-12,"f":-8,"g":-23,"h":-11,"i":-6,"j":-10,"k":-5},
      {"x":31,"a":-10,"b":-6,"c":-12,"d":-11,"e":-13,"f":-9,"g":-14,"h":-12,"i":-10,"j":-8,"k":-21},
      {"x":32,"a":-12,"b":-10,"c":-11,"d":-14,"e":-13,"f":-15,"g":-17,"h":-14,"i":-12,"j":-9,"k":-26},
      {"x":33,"a":-10,"b":-7,"c":-11,"d":-9,"e":-12,"f":-13,"g":-10,"h":-5,"i":-11,"j":-14,"k":-11},
      {"x":34,"a":-13,"b":-8,"c":-9,"d":-10,"e":-11,"f":-12,"g":-15,"h":-12,"i":-13,"j":-11,"k":-10},
      {"x":35,"a":-5,"b":-4,"c":-8,"d":-6,"e":-9,"f":-10,"g":-7,"h":-11,"i":-19,"j":-8,"k":-7},
      {"x":36,"a":-8,"b":-9,"c":-7,"d":-10,"e":-18,"f":-11,"g":-13,"h":-12,"i":-9,"j":-14,"k":-11},
      {"x":37,"a":-6,"b":-5,"c":-8,"d":-9,"e":-7,"f":-3,"g":-12,"h":-4,"i":-10,"j":-8,"k":-8},
      {"x":38,"a":-14,"b":-9,"c":-11,"d":-15,"e":-13,"f":-4,"g":-10,"h":-12,"i":-18,"j":-6,"k":-10},
      {"x":39,"a":-5,"b":-3,"c":-6,"d":-7,"e":-8,"f":-5,"g":-2,"h":-4,"i":-6,"j":-7,"k":-4},
      {"x":40,"a":-10,"b":-1,"c":-4,"d":-8,"e":-6,"f":-12,"g":-3,"h":-2,"i":-9,"j":-17,"k":-2},
      {"x":41,"a":-6,"b":-7,"c":4,"d":-3,"e":-5,"f":-2,"g":-4,"h":-6,"i":-8,"j":-5,"k":-4},
      {"x":42,"a":-5,"b":-10,"c":-2,"d":-22,"e":-8,"f":-11,"g":-7,"h":-9,"i":-15,"j":-12,"k":-9},
      {"x":43,"a":-3,"b":-6,"c":-4,"d":-7,"e":-9,"f":-5,"g":-2,"h":-1,"i":-3,"j":-10,"k":-9},
      {"x":44,"a":-9,"b":-7,"c":-8,"d":-6,"e":-5,"f":-4,"g":-10,"h":-3,"i":-11,"j":-12,"k":-11},
      {"x":45,"a":-5,"b":-6,"c":-3,"d":-8,"e":-7,"f":-2,"g":-4,"h":-9,"i":-6,"j":-1,"k":-7},
      {"x":46,"a":2,"b":-12,"c":-2,"d":1,"e":0,"f":-1,"g":-3,"h":2,"i":3,"j":-1,"k":3},
      {"x":47,"a":-11,"b":-8,"c":-5,"d":-3,"e":-6,"f":-4,"g":-2,"h":-7,"i":-5,"j":-3,"k":-5},
      {"x":48,"a":0,"b":-2,"c":-16,"d":-1,"e":-3,"f":-4,"g":-2,"h":0,"i":-5,"j":-1,"k":2},
      {"x":49,"a":3,"b":1,"c":-2,"d":-3,"e":-1,"f":-4,"g":0,"h":-1,"i":-3,"j":-2,"k":1},
      {"x":50,"a":-7,"b":-6,"c":-12,"d":-5,"e":-8,"f":-3,"g":-9,"h":-4,"i":-11,"j":-6,"k":-11},
      {"x":51,"a":-1,"b":-2,"c":0,"d":-3,"e":2,"f":-4,"g":-9,"h":-1,"i":-2,"j":0,"k":3},
      {"x":52,"a":-3,"b":-6,"c":-2,"d":-4,"e":5,"f":-1,"g":-2,"h":-5,"i":-3,"j":-6,"k":-19},
      {"x":53,"a":2,"b":-4,"c":-12,"d":-3,"e":-5,"f":-6,"g":-1,"h":0,"i":-2,"j":-4,"k":-4},
      {"x":54,"a":-2,"b":-3,"c":-5,"d":-1,"e":-4,"f":-2,"g":3,"h":5,"i":-3,"j":-5,"k":1},
      {"x":55,"a":-4,"b":-5,"c":1,"d":-2,"e":-7,"f":-3,"g":-6,"h":-1,"i":-5,"j":-2,"k":-5},
      {"x":56,"a":-12,"b":-3,"c":7,"d":-2,"e":-4,"f":-5,"g":-8,"h":-3,"i":-1,"j":-6,"k":-7},
      {"x":57,"a":-4,"b":-6,"c":-2,"d":-5,"e":-3,"f":-1,"g":-7,"h":-2,"i":-6,"j":-9,"k":-4},
      {"x":58,"a":-2,"b":-1,"c":-3,"d":1,"e":3,"f":-2,"g":0,"h":-4,"i":-12,"j":-3,"k":2},
      {"x":59,"a":-14,"b":-2,"c":-4,"d":-3,"e":-1,"f":3,"g":-2,"h":-5,"i":-7,"j":-1,"k":1},
      {"x":60,"a":-3,"b":-5,"c":-2,"d":-4,"e":0,"f":-13,"g":1,"h":-3,"i":-6,"j":-2,"k":-7},
      {"x":61,"a":-2,"b":-1,"c":-3,"d":-5,"e":-4,"f":-2,"g":-1,"h":0,"i":-3,"j":-4,"k":0},
      {"x":62,"a":-4,"b":3,"c":1,"d":-2,"e":-7,"f":-5,"g":-3,"h":-6,"i":-1,"j":-16,"k":-2},
      {"x":63,"a":-6,"b":-11,"c":-3,"d":-4,"e":-2,"f":5,"g":-9,"h":-1,"i":-7,"j":-8,"k":-17},
      {"x":64,"a":-3,"b":-5,"c":-1,"d":-6,"e":-4,"f":-2,"g":-3,"h":-1,"i":-5,"j":-2,"k":-4},
      {"x":65,"a":-6,"b":-2,"c":-4,"d":-3,"e":-7,"f":-5,"g":-1,"h":-8,"i":-10,"j":-3,"k":-12},
      {"x":66,"a":-2,"b":-4,"c":-6,"d":-3,"e":-1,"f":-8,"g":-5,"h":-2,"i":-4,"j":-6,"k":-4},
      {"x":67,"a":-5,"b":-3,"c":-2,"d":-4,"e":-1,"f":-6,"g":3,"h":-7,"i":-3,"j":-17,"k":-2},
      {"x":68,"a":-4,"b":-2,"c":-1,"d":-6,"e":-3,"f":-5,"g":-7,"h":-20,"i":-2,"j":-4,"k":-6},
      {"x":69,"a":5,"b":-3,"c":-4,"d":-2,"e":-6,"f":-1,"g":-2,"h":-5,"i":-7,"j":-3,"k":-4},
      {"x":70,"a":-1,"b":-2,"c":0,"d":-3,"e":-4,"f":-2,"g":-1,"h":-3,"i":-2,"j":-4,"k":1},
      {"x":71,"a":-3,"b":-2,"c":-1,"d":0,"e":-5,"f":5,"g":2,"h":-4,"i":-3,"j":-2,"k":-1},
      {"x":72,"a":-8,"b":-6,"c":-7,"d":-5,"e":-13,"f":-9,"g":-4,"h":-6,"i":-10,"j":-2,"k":-5},
      {"x":73,"a":-7,"b":-5,"c":-12,"d":-6,"e":-4,"f":-3,"g":-8,"h":-5,"i":-6,"j":-7,"k":-5},
      {"x":74,"a":-9,"b":-11,"c":-26,"d":-7,"e":-10,"f":-8,"g":-6,"h":-9,"i":-3,"j":-5,"k":-9},
      {"x":75,"a":-4,"b":-17,"c":-6,"d":-5,"e":-3,"f":-8,"g":-4,"h":-7,"i":-10,"j":-2,"k":-4},
      {"x":76,"a":-2,"b":-6,"c":-3,"d":-5,"e":-4,"f":-1,"g":-7,"h":-3,"i":-2,"j":-6,"k":0},
      {"x":77,"a":-8,"b":-3,"c":-10,"d":-7,"e":-9,"f":-11,"g":-12,"h":-16,"i":-6,"j":-12,"k":-9},
      {"x":78,"a":-21,"b":-7,"c":-9,"d":-5,"e":-11,"f":-8,"g":-6,"h":-18,"i":-13,"j":-10,"k":-5},
      {"x":79,"a":-6,"b":0,"c":-5,"d":-4,"e":-8,"f":-9,"g":-7,"h":-3,"i":-5,"j":-18,"k":-4},
      {"x":80,"a":-9,"b":-3,"c":-7,"d":-5,"e":-6,"f":-4,"g":-10,"h":-8,"i":-11,"j":-1,"k":-5},
      {"x":81,"a":-7,"b":-9,"c":-6,"d":-8,"e":-10,"f":-12,"g":-18,"h":-11,"i":-9,"j":-13,"k":-6},
      {"x":82,"a":-10,"b":-13,"c":-12,"d":-2,"e":-9,"f":-8,"g":-11,"h":-14,"i":-12,"j":-7,"k":-10},
      {"x":83,"a":-14,"b":-12,"c":-9,"d":-11,"e":-8,"f":-7,"g":-10,"h":-20,"i":-13,"j":-9,"k":-6},
      {"x":84,"a":-12,"b":-10,"c":-15,"d":-11,"e":-2,"f":-8,"g":-13,"h":-9,"i":-12,"j":-10,"k":-8},
      {"x":85,"a":-11,"b":-9,"c":-13,"d":-14,"e":-12,"f":-10,"g":-9,"h":-11,"i":-14,"j":-12,"k":-8},
      {"x":86,"a":-10,"b":-8,"c":-11,"d":-12,"e":-13,"f":-17,"g":-9,"h":-14,"i":-16,"j":-7,"k":-8},
      {"x":87,"a":-9,"b":-12,"c":-10,"d":-11,"e":-13,"f":-8,"g":-12,"h":-10,"i":-9,"j":-6,"k":-11},
      {"x":88,"a":-8,"b":-5,"c":-13,"d":-10,"e":-7,"f":-6,"g":-9,"h":-12,"i":-11,"j":-8,"k":-9},
      {"x":89,"a":-17,"b":-10,"c":-12,"d":-11,"e":-9,"f":-8,"g":-16,"h":-13,"i":-15,"j":-10,"k":-25},
      {"x":90,"a":-4,"b":2,"c":-3,"d":1,"e":-5,"f":-2,"g":-1,"h":-10,"i":-2,"j":-4,"k":-1}
    ]
  },
  "spacing": 19,
  "bounds": "flush",
  "vconcat": [
    {
      "data": {"name": "L"},
      "width": 1308,
      "height": 300,
      "view": {"stroke": null},
      "transform": [
        {"window": [{"op": "row_number", "as": "n"}]},
        {"calculate": "(datum.n - 1) % 3", "as": "c"},
        {"calculate": "floor((datum.n - 1) / 3)", "as": "r"}
      ],
      "encoding": {
        "x": {"field": "c", "type": "quantitative", "scale": {"domain": [0, 1, 2], "range": [59, 509, 978], "nice": false, "zero": false}, "axis": null},
        "y": {"field": "r", "type": "quantitative", "scale": {"domain": [0, 3], "range": [24, 249], "nice": false, "zero": false}, "axis": null}
      },
      "layer": [
        {
          "mark": {"type": "rule", "strokeWidth": 5, "xOffset": -68, "x2Offset": 68},
          "encoding": {
            "x2": {"field": "c"},
            "stroke": {"field": "s", "type": "nominal", "legend": null,
              "scale": {"domain": ["a","b","c","d","e","f","g","h","i","j","k"], "range": ["#505050","#e8464a","#2a72d4","#3a9a6a","#b07fe0","#c99412","#12c0c6","#7a4e4e","#8a8a00","#f06818","#6b98cc"]}}
          }
        },
        {
          "mark": {"type": "point", "filled": true, "size": 150, "opacity": 1},
          "encoding": {
            "fill": {"field": "s", "type": "nominal", "legend": null,
              "scale": {"domain": ["a","b","c","d","e","f","g","h","i","j","k"], "range": ["#000000","#ff0000","#00ff00","#0000ff","#00ffff","#ff00ff","#ffff00","#808000","#000080","#800080","#800000"]}},
            "shape": {"field": "s", "type": "nominal", "legend": null,
              "scale": {"domain": ["a","b","c","d","e","f","g","h","i","j","k"], "range": ["square","circle","triangle-up","triangle-down","diamond","triangle-left","triangle-right","circle","M0,-1L0.235,-0.324L0.951,-0.309L0.38,0.124L0.588,0.809L0,0.4L-0.588,0.809L-0.38,0.124L-0.951,-0.309L-0.235,-0.324Z","M0,-1L0.951,-0.309L0.588,0.809L-0.588,0.809L-0.951,-0.309Z","circle"]}}
          }
        },
        {
          "transform": [{"filter": "datum.s == 'k'"}],
          "mark": {"type": "point", "filled": true, "size": 8, "fill": "white", "opacity": 1}
        },
        {
          "mark": {"type": "text", "align": "left", "baseline": "middle", "dx": 88, "fontSize": 67, "color": "black"},
          "encoding": {"text": {"field": "t"}}
        }
      ]
    },
    {
      "spacing": 336,
      "bounds": "flush",
      "vconcat": [
        {
          "data": {"name": "A"},
          "transform": [{"fold": ["a","b","c","d","e","f","g","h","i","j","k"], "as": ["s", "y"]}],
          "width": 1308,
          "height": 388,
          "title": {"text": "(a) 中心频率为3 GHz", "orient": "bottom"},
          "layer": [
            {
              "mark": {"type": "line", "strokeWidth": 4.5},
              "encoding": {
                "x": {"field": "x", "type": "quantitative", "scale": {"domain": [-1.94, 91.86], "nice": false, "zero": false},
                  "axis": {"orient": "bottom", "values": [0, 45, 90], "labelExpr": "datum.value == 0 ? '0' : datum.value == 45 ? '1/2' : '1'", "title": "周期", "tickSize": -16}},
                "y": {"field": "y", "type": "quantitative", "scale": {"domain": [-40, 25.3], "nice": false, "zero": false},
                  "axis": {"orient": "left", "values": [-40, -20, 0, 20], "title": "RCS/dBsm", "tickSize": -16}},
                "stroke": {"field": "s", "type": "nominal", "legend": null}
              }
            },
            {
              "mark": {"type": "point", "filled": true, "size": 130, "opacity": 1},
              "encoding": {
                "x": {"field": "x", "type": "quantitative", "axis": {"orient": "bottom", "values": [22.5, 67.5], "labels": false, "title": null, "tickSize": -8}},
                "y": {"field": "y", "type": "quantitative", "axis": {"orient": "left", "values": [-30, -10, 10], "labels": false, "title": null, "tickSize": -8}},
                "fill": {"field": "s", "type": "nominal", "legend": null},
                "shape": {"field": "s", "type": "nominal", "legend": null}
              }
            },
            {
              "transform": [{"filter": "datum.s == 'k'"}],
              "mark": {"type": "point", "filled": true, "size": 9, "fill": "white", "opacity": 1},
              "encoding": {
                "x": {"field": "x", "type": "quantitative", "axis": null},
                "y": {"field": "y", "type": "quantitative", "axis": null}
              }
            }
          ],
          "resolve": {"axis": {"x": "independent", "y": "independent"}}
        },
        {
          "data": {"name": "B"},
          "transform": [{"fold": ["a","b","c","d","e","f","g","h","i","j","k"], "as": ["s", "y"]}],
          "width": 1308,
          "height": 388,
          "title": {"text": "(b) 中心频率为6 GHz", "orient": "bottom"},
          "layer": [
            {
              "mark": {"type": "line", "strokeWidth": 4.5},
              "encoding": {
                "x": {"field": "x", "type": "quantitative", "scale": {"domain": [-1.94, 91.86], "nice": false, "zero": false},
                  "axis": {"orient": "bottom", "values": [0, 45, 90], "labelExpr": "datum.value == 0 ? '0' : datum.value == 45 ? '1/2' : '1'", "title": "周期", "tickSize": -16}},
                "y": {"field": "y", "type": "quantitative", "scale": {"domain": [-35.4, 25.6], "nice": false, "zero": false},
                  "axis": {"orient": "left", "values": [-20, 0, 20], "title": "RCS/dBsm", "tickSize": -16}},
                "stroke": {"field": "s", "type": "nominal", "legend": null}
              }
            },
            {
              "mark": {"type": "point", "filled": true, "size": 130, "opacity": 1},
              "encoding": {
                "x": {"field": "x", "type": "quantitative", "axis": {"orient": "bottom", "values": [22.5, 67.5], "labels": false, "title": null, "tickSize": -8}},
                "y": {"field": "y", "type": "quantitative", "axis": {"orient": "left", "values": [-30, -10, 10], "labels": false, "title": null, "tickSize": -8}},
                "fill": {"field": "s", "type": "nominal", "legend": null},
                "shape": {"field": "s", "type": "nominal", "legend": null}
              }
            },
            {
              "transform": [{"filter": "datum.s == 'k'"}],
              "mark": {"type": "point", "filled": true, "size": 9, "fill": "white", "opacity": 1},
              "encoding": {
                "x": {"field": "x", "type": "quantitative", "axis": null},
                "y": {"field": "y", "type": "quantitative", "axis": null}
              }
            }
          ],
          "resolve": {"axis": {"x": "independent", "y": "independent"}}
        },
        {
          "data": {"name": "C"},
          "transform": [{"fold": ["a","b","c","d","e","f","g","h","i","j","k"], "as": ["s", "y"]}],
          "width": 1308,
          "height": 388,
          "title": {"text": "(c) 中心频率为10 GHz", "orient": "bottom"},
          "layer": [
            {
              "mark": {"type": "line", "strokeWidth": 4.5},
              "encoding": {
                "x": {"field": "x", "type": "quantitative", "scale": {"domain": [-1.94, 91.86], "nice": false, "zero": false},
                  "axis": {"orient": "bottom", "values": [0, 45, 90], "labelExpr": "datum.value == 0 ? '0' : datum.value == 45 ? '1/2' : '1'", "title": "周期", "tickSize": -16}},
                "y": {"field": "y", "type": "quantitative", "scale": {"domain": [-40, 25.7], "nice": false, "zero": false},
                  "axis": {"orient": "left", "values": [-40, -20, 0, 20], "title": "RCS/dBsm", "tickSize": -16}},
                "stroke": {"field": "s", "type": "nominal", "legend": null}
              }
            },
            {
              "mark": {"type": "point", "filled": true, "size": 130, "opacity": 1},
              "encoding": {
                "x": {"field": "x", "type": "quantitative", "axis": {"orient": "bottom", "values": [22.5, 67.5], "labels": false, "title": null, "tickSize": -8}},
                "y": {"field": "y", "type": "quantitative", "axis": {"orient": "left", "values": [-30, -10, 10], "labels": false, "title": null, "tickSize": -8}},
                "fill": {"field": "s", "type": "nominal", "legend": null},
                "shape": {"field": "s", "type": "nominal", "legend": null}
              }
            },
            {
              "transform": [{"filter": "datum.s == 'k'"}],
              "mark": {"type": "point", "filled": true, "size": 9, "fill": "white", "opacity": 1},
              "encoding": {
                "x": {"field": "x", "type": "quantitative", "axis": null},
                "y": {"field": "y", "type": "quantitative", "axis": null}
              }
            }
          ],
          "resolve": {"axis": {"x": "independent", "y": "independent"}}
        }
      ]
    }
  ]
}
